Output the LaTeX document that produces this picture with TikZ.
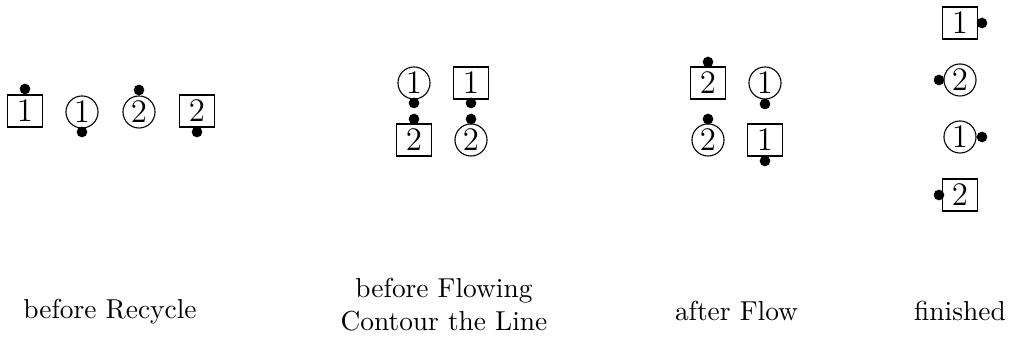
\documentclass[tikz,border=0pt]{standalone}
\begin{document}
\begin{tikzpicture}[x=0.365pt,y=-0.365pt,
  sq/.style={draw,line width=0.4pt,minimum width=12.6pt,minimum height=11.7pt,inner sep=0pt,font=\large},
  cir/.style={draw,circle,line width=0.4pt,minimum size=11.7pt,inner sep=0pt,font=\large},
  dot/.style={fill,circle,minimum size=3.9pt,inner sep=0pt},
  lbl/.style={font=\normalsize,align=center}]
\useasboundingbox (0,0) rectangle (1012,339);
% stage 1
\node[sq]  (a1) at (25,111) {1};
\node[cir] (a2) at (82,112) {1};
\node[cir] (a3) at (139,112) {2};
\node[sq]  (a4) at (197,111) {2};
\node[dot] (ad1) at (25,89) {};
\node[dot] (ad2) at (82,132) {};
\node[dot] (ad3) at (139,90) {};
\node[dot] (ad4) at (197,132) {};
% stage 2
\node[cir] (b1) at (414,83) {1};
\node[sq]  (b2) at (471,83) {1};
\node[sq]  (b3) at (414,140) {2};
\node[cir] (b4) at (471,140) {2};
\node[dot] (bd1) at (414,103) {};
\node[dot] (bd2) at (471,103) {};
\node[dot] (bd3) at (414,119) {};
\node[dot] (bd4) at (471,119) {};
% stage 3
\node[sq]  (c1) at (708,83) {2};
\node[cir] (c2) at (765,83) {1};
\node[cir] (c3) at (708,140) {2};
\node[sq]  (c4) at (765,140) {1};
\node[dot] (cd1) at (708,62) {};
\node[dot] (cd2) at (765,104) {};
\node[dot] (cd3) at (708,119) {};
\node[dot] (cd4) at (765,161) {};
% stage 4
\node[sq]  (e1) at (960,23) {1};
\node[cir] (e2) at (960,80) {2};
\node[cir] (e3) at (960,137) {1};
\node[sq]  (e4) at (960,195) {2};
\node[dot] (ed1) at (982,23) {};
\node[dot] (ed2) at (939,80) {};
\node[dot] (ed3) at (982,137) {};
\node[dot] (ed4) at (939,195) {};
% labels
\node[lbl] (l1) at (110,311.5) {before Recycle};
\node[lbl] (l2) at (444,305) {before Flowing\\Contour the Line};
\node[lbl] (l3) at (736.5,311.5) {after Flow};
\node[lbl] (l4) at (960,311.5) {finished};
\end{tikzpicture}
\end{document}
